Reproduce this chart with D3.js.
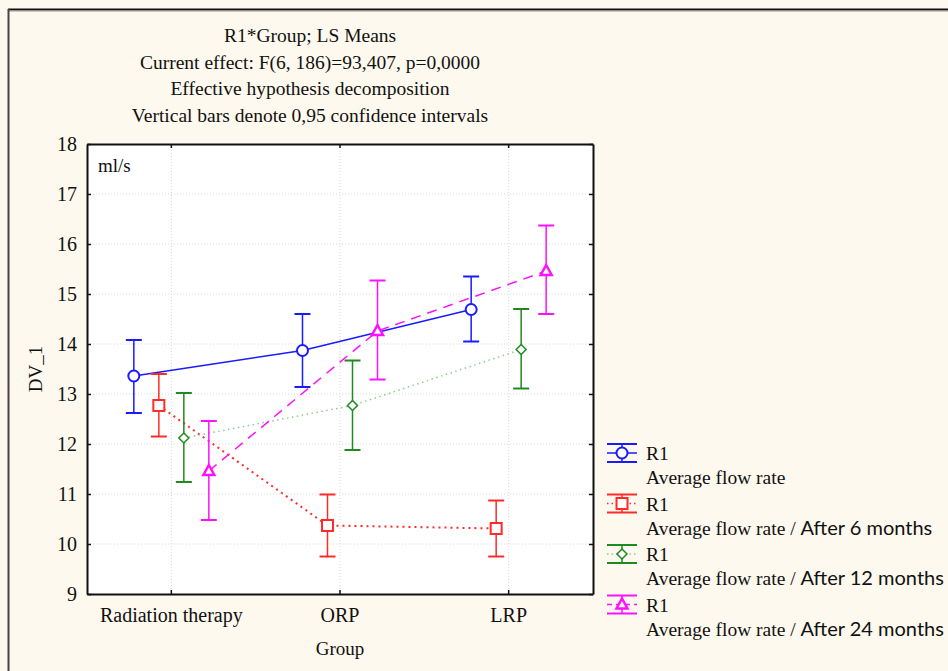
<!DOCTYPE html>
<html><head><meta charset="utf-8">
<script src="https://cdn.jsdelivr.net/npm/d3@7"></script>
<style>body{margin:0;background:#fef9ee;} svg{display:block;}</style>
</head><body>
<svg id="c" width="948" height="671"></svg>
<script>
const categories = ["Radiation therapy", "ORP", "LRP"];
const seriesNames = ["Average flow rate", "Average flow rate / ", "Average flow rate / ", "Average flow rate / "];
const seriesSuffix = ["", "After 6 months", "After 12 months", "After 24 months"];
const meanAvg = [13.36, 13.87, 14.69];
const lowAvg  = [12.62, 13.14, 14.05];
const highAvg = [14.08, 14.60, 15.35];
const mean6 = [12.77, 10.37, 10.31];
const low6  = [12.15, 9.75, 9.75];
const high6 = [13.40, 10.99, 10.87];
const mean12 = [12.12, 12.77, 13.89];
const low12  = [11.24, 11.88, 13.11];
const high12 = [13.02, 13.67, 14.70];
const mean24 = [11.46, 14.26, 15.46];
const low24  = [10.48, 13.29, 14.60];
const high24 = [12.46, 15.27, 16.37];
const yTicks = [9, 10, 11, 12, 13, 14, 15, 16, 17, 18];
const titleLines = ["R1*Group; LS Means", "Current effect: F(6, 186)=93,407, p=0,0000",
  "Effective hypothesis decomposition", "Vertical bars denote 0,95 confidence intervals"];

const series = [
  {mean: meanAvg, low: lowAvg, high: highAvg, color: "#1a1aff", dash: null, lineColor: "#1a1aff", sym: "circle"},
  {mean: mean6, low: low6, high: high6, color: "#ff2a2a", dash: "2,4", lineColor: "#ff2a2a", sym: "square"},
  {mean: mean12, low: low12, high: high12, color: "#1f8a1f", dash: "1.5,3.5", lineColor: "#8fc98f", sym: "diamond"},
  {mean: mean24, low: low24, high: high24, color: "#ff10ff", dash: "10,7", lineColor: "#ff10ff", sym: "triangle"}
];

const svg = d3.select("#c");
const serif = "'Liberation Serif', 'Times New Roman', serif";
const sans = "Lato, 'Open Sans', sans-serif";

// outer frame
svg.append("rect").attr("x", 0).attr("y", 0).attr("width", 948).attr("height", 671).attr("fill", "#fef9ee");
svg.append("line").attr("x1", 8).attr("x2", 948).attr("y1", 9.5).attr("y2", 9.5).attr("stroke", "#111").attr("stroke-width", 2);
svg.append("line").attr("x1", 8).attr("x2", 948).attr("y1", 11).attr("y2", 11).attr("stroke", "#999").attr("stroke-width", 1);
svg.append("line").attr("x1", 8.5).attr("x2", 8.5).attr("y1", 9).attr("y2", 671).attr("stroke", "#444").attr("stroke-width", 2);

// title
svg.append("g").selectAll("text").data(titleLines).join("text")
  .attr("x", 310).attr("y", (d, i) => 42 + i * 26.5)
  .attr("text-anchor", "middle").attr("font-family", serif).attr("font-size", 19.5).attr("fill", "#111")
  .text(d => d);

const L = 87, R = 593, T = 144, B = 594;
const x = d3.scaleBand().domain(categories).range([L, R]);
const off = d3.scalePoint().domain(d3.range(4)).range([-37.5, 37.5]);
const y = d3.scaleLinear().domain([9, 18]).range([B, T]);

svg.append("rect").attr("x", L).attr("y", T).attr("width", R - L).attr("height", B - T).attr("fill", "#fff");

// grid
const g = svg.append("g");
g.selectAll(".gy").data(yTicks.slice(1, -1)).join("line")
  .attr("x1", L).attr("x2", R).attr("y1", d => y(d)).attr("y2", d => y(d))
  .attr("stroke", "#d8d8d8").attr("stroke-dasharray", "1,2");
g.selectAll(".gx").data(categories).join("line")
  .attr("x1", d => x(d) + x.bandwidth() / 2).attr("x2", d => x(d) + x.bandwidth() / 2)
  .attr("y1", T).attr("y2", B)
  .attr("stroke", "#d8d8d8").attr("stroke-dasharray", "1,2");

// axes
const axL = d3.axisLeft(y).tickValues(yTicks).tickSizeInner(-4).tickSizeOuter(0).tickPadding(10).tickFormat(d3.format("d"));
const gL = svg.append("g").attr("transform", `translate(${L},0)`).call(axL);
const axR = d3.axisRight(y).tickValues(yTicks).tickSizeInner(-4).tickSizeOuter(0).tickFormat("");
const gR = svg.append("g").attr("transform", `translate(${R},0)`).call(axR);
const axB = d3.axisBottom(x).tickSizeInner(-4).tickSizeOuter(0).tickPadding(14);
const gB = svg.append("g").attr("transform", `translate(0,${B})`).call(axB);
const axT = d3.axisTop(x).tickSizeInner(-4).tickSizeOuter(0).tickFormat("");
const gT = svg.append("g").attr("transform", `translate(0,${T})`).call(axT);
[gL, gR, gB, gT].forEach(a => {
  a.select(".domain").attr("stroke", "#111").attr("stroke-width", 2);
  a.selectAll(".tick line").attr("stroke", "#111").attr("stroke-width", 1.5);
  a.selectAll("text").attr("font-family", serif).attr("font-size", 20).attr("fill", "#111");
});
gB.selectAll("text").attr("font-size", 20);

svg.append("text").attr("x", 340).attr("y", 655).attr("text-anchor", "middle")
  .attr("font-family", serif).attr("font-size", 19).attr("fill", "#111").text("Group");
svg.append("text").attr("transform", "translate(42,369) rotate(-90)").attr("text-anchor", "middle")
  .attr("font-family", serif).attr("font-size", 19).attr("fill", "#111").text("DV_1");
svg.append("text").attr("x", 98).attr("y", 172)
  .attr("font-family", serif).attr("font-size", 19).attr("fill", "#111").text("ml/s");

function drawMarker(sel, sym, color) {
  if (sym === "circle") sel.append("circle").attr("r", 5.5).attr("fill", "#fff").attr("stroke", color).attr("stroke-width", 2);
  else if (sym === "square") sel.append("rect").attr("x", -5.5).attr("y", -5.5).attr("width", 11).attr("height", 11).attr("fill", "#fff").attr("stroke", color).attr("stroke-width", 2);
  else if (sym === "diamond") sel.append("path").attr("d", "M0,-5L5,0L0,5L-5,0Z").attr("fill", "#fff").attr("stroke", color).attr("stroke-width", 1.5);
  else sel.append("path").attr("d", "M0,-6L5.5,4L-5.5,4Z").attr("fill", "#fff").attr("stroke", color).attr("stroke-width", 2.5);
}

const cx = (s, i) => x(categories[i]) + x.bandwidth() / 2 + off(s);
const capW = 8;
series.forEach((s, si) => {
  const grp = svg.append("g");
  const line = d3.line().x((d, i) => cx(si, i)).y(d => y(d));
  grp.append("path").attr("d", line(s.mean)).attr("fill", "none")
    .attr("stroke", s.lineColor).attr("stroke-width", si === 1 ? 2 : 1.5)
    .attr("stroke-dasharray", s.dash);
  s.mean.forEach((m, i) => {
    const xc = cx(si, i);
    grp.append("line").attr("x1", xc).attr("x2", xc).attr("y1", y(s.low[i])).attr("y2", y(s.high[i])).attr("stroke", s.color).attr("stroke-width", 1.5);
    [s.low[i], s.high[i]].forEach(v => grp.append("line").attr("x1", xc - capW).attr("x2", xc + capW)
      .attr("y1", y(v)).attr("y2", y(v)).attr("stroke", s.color).attr("stroke-width", 2));
    drawMarker(grp.append("g").attr("transform", `translate(${xc},${y(m)})`), s.sym, s.color);
  });
});

// legend
const leg = svg.append("g");
series.forEach((s, si) => {
  const cy = 453 + si * 50.5;
  const lg = leg.append("g").attr("transform", `translate(622,${cy})`);
  lg.append("line").attr("x1", -15).attr("x2", 15).attr("y1", 0).attr("y2", 0)
    .attr("stroke", s.lineColor).attr("stroke-width", 1.5).attr("stroke-dasharray", s.dash ? (si === 3 ? "5,4" : "1.5,3") : null);
  lg.append("line").attr("x1", 0).attr("x2", 0).attr("y1", -9).attr("y2", 9).attr("stroke", s.color).attr("stroke-width", 1.5);
  [-9, 9].forEach(v => lg.append("line").attr("x1", -15).attr("x2", 15).attr("y1", v).attr("y2", v).attr("stroke", s.color).attr("stroke-width", 2));
  drawMarker(lg.append("g"), s.sym, s.color);
  leg.append("text").attr("x", 646).attr("y", cy + 7).attr("font-family", serif).attr("font-size", 19.5).attr("fill", "#111").text("R1");
  const t = leg.append("text").attr("x", 646).attr("y", cy + 31).attr("font-family", serif).attr("font-size", 19.5).attr("fill", "#111");
  t.append("tspan").text(seriesNames[si]);
  if (seriesSuffix[si]) t.append("tspan").attr("font-family", sans).attr("font-size", 20).text(seriesSuffix[si]);
});
</script>
</body></html>
